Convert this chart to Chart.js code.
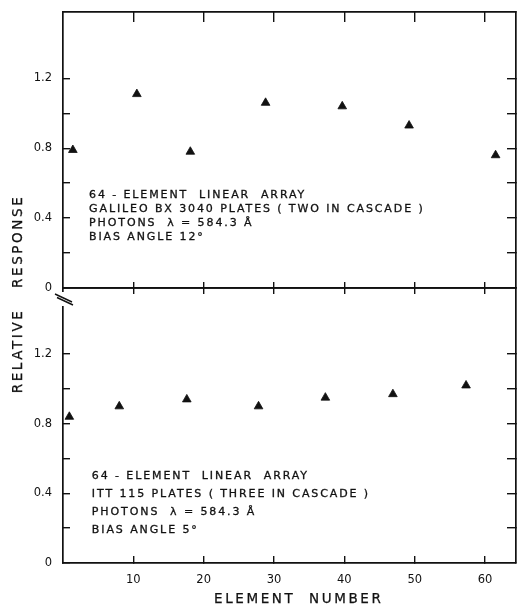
<!DOCTYPE html>
<html><head><meta charset="utf-8">
<script src="https://cdn.jsdelivr.net/npm/chart.js@4.4.1/dist/chart.umd.min.js"></script>
<style>
html,body{margin:0;padding:0;background:#fff;}
#wrap{position:relative;width:518px;height:611px;overflow:hidden;background:#fff;}
canvas{position:absolute;left:0;top:0;}
.atitle{position:absolute;font-family:'DejaVu Sans';font-size:13.5px;line-height:16px;letter-spacing:2.6px;color:#111;white-space:pre;-webkit-text-stroke:0.25px #111;}
#xt{left:214px;top:590px;}
#yt{left:-93px;top:286px;width:220px;text-align:center;transform:rotate(-90deg);transform-origin:50% 50%;}
</style></head><body>
<div id="wrap">
<canvas id="cTop" width="518" height="611"></canvas>
<canvas id="cBot" width="518" height="611"></canvas>
<div class="atitle" id="xt">ELEMENT  NUMBER</div>
<div class="atitle" id="yt">RELATIVE   RESPONSE</div>
</div>
<script>
// ---- data ----
const elementsTop = [1.4, 10.5, 18.1, 28.8, 39.7, 49.2, 61.5];
const responseTop = [0.79, 1.11, 0.78, 1.06, 1.04, 0.93, 0.76];
const elementsBottom = [0.9, 8.0, 17.6, 27.8, 37.3, 46.9, 57.3];
const responseBottom = [0.84, 0.90, 0.94, 0.90, 0.95, 0.97, 1.02];
const xTickValues = [10, 20, 30, 40, 50, 60];
const yTickValues = [0, 0.2, 0.4, 0.6, 0.8, 1.0, 1.2];
const yTickLabels = [0, 0.4, 0.8, 1.2];
const notesTop = ['64 - ELEMENT  LINEAR  ARRAY', 'GALILEO BX 3040 PLATES ( TWO IN CASCADE )', 'PHOTONS  \u03BB = 584.3 \u00C5', 'BIAS ANGLE 12\u00B0'];
const notesBottom = ['64 - ELEMENT  LINEAR  ARRAY', 'ITT 115 PLATES ( THREE IN CASCADE )', 'PHOTONS  \u03BB = 584.3 \u00C5', 'BIAS ANGLE 5\u00B0'];

const INK = '#111';
const FONT = 'DejaVu Sans';

function zeroPad(s){ s.paddingTop = 0; s.paddingBottom = 0; s.paddingLeft = 0; s.paddingRight = 0; }

function makeScales(showXLabels, opts) {
  return {
    x: {
      type: 'linear', position: 'bottom', min: 0, max: 64.4,
      afterBuildTicks: s => { s.ticks = xTickValues.map(v => ({value: v})); },
      ticks: {display: showXLabels, padding: 17, color: INK, font: {family: FONT, size: 11.5}, callback: v => String(v)},
      grid: {drawOnChartArea: false, drawTicks: true, tickLength: -opts.bottomTick, color: INK, lineWidth: 1.4},
      border: {display: true, color: INK, width: 1.7},
      afterFit: s => { s.height = opts.bottomHeight; zeroPad(s); }
    },
    x2: {
      type: 'linear', position: 'top', min: 0, max: 64.4,
      afterBuildTicks: s => { s.ticks = xTickValues.map(v => ({value: v})); },
      ticks: {display: false},
      grid: {drawOnChartArea: false, drawTicks: true, tickLength: -opts.topTick, color: INK, lineWidth: 1.4},
      border: {display: true, color: INK, width: 1.7},
      afterFit: s => { s.height = 0; zeroPad(s); }
    },
    y: {
      type: 'linear', position: 'left', min: 0, max: 1.58,
      afterBuildTicks: s => { s.ticks = yTickValues.map(v => ({value: v})); },
      ticks: {padding: 18, color: INK, font: {family: FONT, size: 11.5},
        callback: v => yTickLabels.includes(v) ? (v === 0 ? '0' : v.toFixed(1)) : ''},
      grid: {drawOnChartArea: false, drawTicks: true, tickLength: -7, color: INK, lineWidth: 1.4},
      border: {display: true, color: INK, width: 1.7},
      afterFit: s => { s.width = 63; zeroPad(s); }
    },
    y2: {
      type: 'linear', position: 'right', min: 0, max: 1.58,
      afterBuildTicks: s => { s.ticks = yTickValues.filter(v => v > 0).map(v => ({value: v})); },
      ticks: {display: false},
      grid: {drawOnChartArea: false, drawTicks: true, tickLength: -9, color: INK, lineWidth: 1.4},
      border: {display: true, color: INK, width: 1.7},
      afterFit: s => { s.width = 0; zeroPad(s); }
    }
  };
}

const notesPlugin = {
  id: 'notes',
  afterDatasetsDraw(chart, args, o) {
    const ctx = chart.ctx;
    const x = chart.scales.x.getPixelForValue(o.x);
    const y0 = chart.scales.y.getPixelForValue(o.y);
    ctx.save();
    ctx.font = '11px "' + FONT + '"';
    ctx.letterSpacing = '1.9px';
    ctx.fillStyle = INK;
    ctx.strokeStyle = INK;
    ctx.lineWidth = 0.3;
    ctx.textBaseline = 'middle';
    ctx.textAlign = 'left';
    o.lines.forEach((t, i) => { ctx.fillText(t, x, y0 + i * o.lineGap); ctx.strokeText(t, x, y0 + i * o.lineGap); });
    ctx.restore();
  }
};

const breakPlugin = {
  id: 'axisBreak',
  afterDraw(chart, args, o) {
    if (!o.enabled) return;
    const ctx = chart.ctx, a = chart.chartArea;
    ctx.save();
    ctx.fillStyle = '#fff';
    ctx.fillRect(a.left - 3, a.top + 4, 6, 14);
    ctx.strokeStyle = INK; ctx.lineWidth = 1.4;
    ctx.beginPath();
    ctx.moveTo(a.left - 8, a.top + 6); ctx.lineTo(a.left + 9, a.top + 14);
    ctx.moveTo(a.left - 6, a.top + 9.5); ctx.lineTo(a.left + 10, a.top + 17);
    ctx.stroke();
    ctx.restore();
  }
};

function makeChart(id, xs, ys, padding, notes, scaleOpts, brk) {
  return new Chart(document.getElementById(id), {
    type: 'scatter',
    data: {datasets: [{
      data: xs.map((x, i) => ({x: x, y: ys[i]})),
      pointStyle: 'triangle', pointRadius: 5, pointHoverRadius: 5,
      backgroundColor: INK, borderColor: INK, borderWidth: 0.8, showLine: false
    }]},
    options: {
      responsive: false, animation: false, devicePixelRatio: 1, events: [],
      layout: {padding: padding, autoPadding: false},
      plugins: {legend: {display: false}, tooltip: {enabled: false}, notes: notes, axisBreak: {enabled: brk}},
      scales: makeScales(scaleOpts.showX, scaleOpts)
    },
    plugins: [notesPlugin, breakPlugin]
  });
}

makeChart('cTop', elementsTop, responseTop, {left: 0, right: 2, top: 12, bottom: 323},
  {x: 3.7, y: 0.529, lineGap: 14, lines: notesTop},
  {showX: false, bottomHeight: 0, bottomTick: 6, topTick: 10}, false);

makeChart('cBot', elementsBottom, responseBottom, {left: 0, right: 2, top: 288, bottom: 0},
  {x: 4.1, y: 0.499, lineGap: 18, lines: notesBottom},
  {showX: true, bottomHeight: 48, bottomTick: 7, topTick: 6}, true);
</script>
</body></html>
